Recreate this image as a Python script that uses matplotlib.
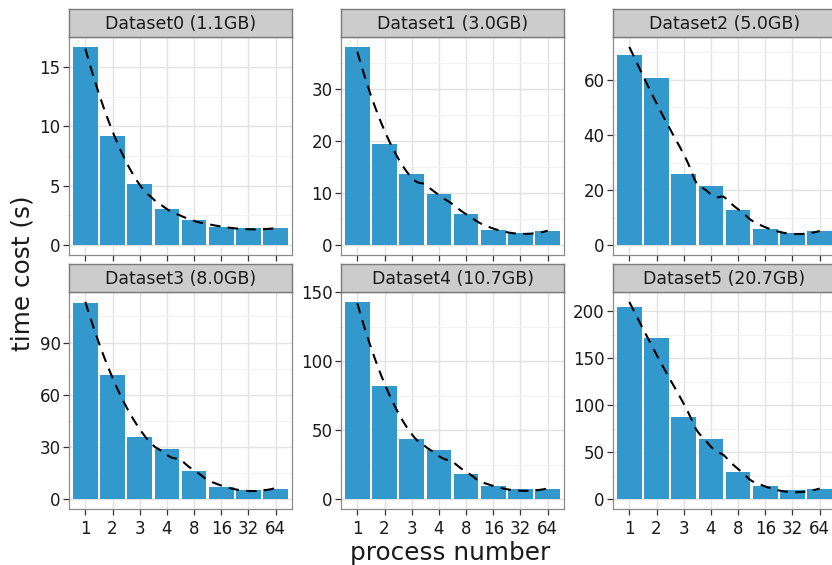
import numpy as np
import matplotlib
matplotlib.use("Agg")
import matplotlib.pyplot as plt

plt.rcParams['font.family'] = ['DejaVu Sans']

# data
procs = ['1', '2', '3', '4', '8', '16', '32', '64']
titles = ['Dataset0 (1.1GB)', 'Dataset1 (3.0GB)', 'Dataset2 (5.0GB)',
          'Dataset3 (8.0GB)', 'Dataset4 (10.7GB)', 'Dataset5 (20.7GB)']
ds0 = [16.7, 9.2, 5.15, 3.0, 2.15, 1.5, 1.4, 1.4]
ds1 = [38.0, 19.4, 13.6, 9.8, 6.0, 2.9, 2.35, 2.7]
ds2 = [69.0, 60.6, 26.0, 21.5, 12.9, 5.9, 4.5, 5.0]
ds3 = [113.0, 71.5, 36.0, 28.6, 16.3, 7.0, 5.5, 6.1]
ds4 = [143.0, 81.7, 43.3, 35.8, 18.3, 9.4, 7.2, 7.3]
ds5 = [204.0, 172.0, 87.0, 64.0, 29.0, 13.7, 9.5, 10.5]
series = [ds0, ds1, ds2, ds3, ds4, ds5]
yticks = [[0, 5, 10, 15], [0, 10, 20, 30], [0, 20, 40, 60],
          [0, 30, 60, 90], [0, 50, 100, 150], [0, 50, 100, 150, 200]]

bar_col = '#3399cc'


def loess(x, y, xs, span=0.75):
    # local quadratic fit with tricube weights (like geom_smooth's loess)
    n = len(x)
    q = int(np.floor(n * span))
    out = []
    for x0 in xs:
        d = np.abs(x - x0)
        h = np.sort(d)[q - 1]
        w = np.clip(1 - (d / h) ** 3, 0, None) ** 3
        X = np.vstack([np.ones(n), x - x0, (x - x0) ** 2]).T
        sw = np.sqrt(w)
        beta = np.linalg.lstsq(X * sw[:, None], y * sw, rcond=None)[0]
        out.append(beta[0])
    return np.array(out)


fig = plt.figure(figsize=(8.32, 5.65), dpi=100)
W, H = 832.0, 565.0
lefts = [69, 341, 613]
pw = 223
rows = [(37, 255), (292, 509)]   # top/bottom pixel of each row's panel
strip_h = 28

xpos = np.arange(1, 9)
xs = np.linspace(1, 8, 80)

for i, vals in enumerate(series):
    r, c = divmod(i, 3)
    top, bot = rows[r]
    ax = fig.add_axes([lefts[c] / W, 1 - bot / H, pw / W, (bot - top) / H])
    vals = np.array(vals)
    sm = loess(xpos.astype(float), vals, xs)
    ax.bar(xpos, vals, width=0.9, color=bar_col, zorder=2)
    ax.plot(xs, sm, color='black', lw=1.5, ls=(0, (5, 3.5)), zorder=3)

    lo = min(0, sm.min())
    hi = max(vals.max(), sm.max())
    pad = (hi - lo) * 0.05
    ax.set_ylim(lo - pad, hi + pad)
    ax.set_xlim(0.4, 8.6)

    ax.set_xticks(xpos)
    yt = yticks[i]
    ax.set_yticks(yt)
    step = yt[1] - yt[0]
    ax.set_yticks(np.arange(yt[0] + step / 2, hi + pad, step), minor=True)
    ax.set_facecolor('white')
    ax.grid(True, which='major', color='#e3e3e3', lw=1.0, zorder=0)
    ax.grid(True, which='minor', axis='y', color='#f0f0f0', lw=0.6, zorder=0)
    ax.set_axisbelow(True)
    for s in ax.spines.values():
        s.set_color('#8c8c8c')
        s.set_linewidth(0.9)
    ax.tick_params(axis='both', which='major', length=4, width=0.9,
                   color='#333333', labelsize=12, labelcolor='#1a1a1a', pad=2)
    ax.tick_params(axis='x', which='major', pad=4)
    ax.tick_params(axis='y', which='minor', length=0)
    if r == 1:
        ax.set_xticklabels(procs)
    else:
        ax.set_xticklabels([])

    # facet strip
    sax = fig.add_axes([lefts[c] / W, 1 - top / H, pw / W, strip_h / H])
    sax.set_facecolor('#cccccc')
    sax.set_xticks([])
    sax.set_yticks([])
    for s in sax.spines.values():
        s.set_color('#7a7a7a')
        s.set_linewidth(1.0)
    sax.text(0.5, 0.47, titles[i], ha='center', va='center', fontsize=12.5,
             color='#1a1a1a', transform=sax.transAxes)

fig.text(0.027, 1 - 273 / H, 'time cost (s)', rotation=90, ha='center',
         va='center', fontsize=17.8, color='#1a1a1a')
fig.text(450 / W, 1 - 553 / H, 'process number', ha='center', va='center',
         fontsize=17.8, color='#1a1a1a')

fig.savefig('out.png', dpi=100)
